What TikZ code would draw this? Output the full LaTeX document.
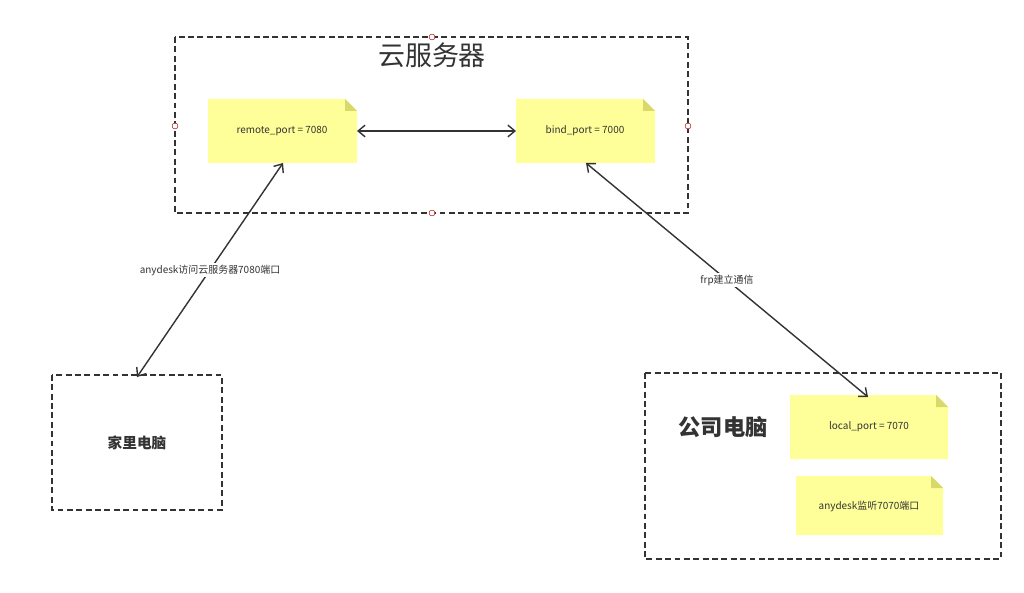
\documentclass[tikz,border=0pt]{standalone}
\usepackage{fontspec}
\setmainfont{Noto Sans CJK SC}
\usetikzlibrary{arrows.meta,shapes.misc}
\definecolor{notey}{HTML}{FFFF99}
\definecolor{linec}{HTML}{333333}
\tikzset{
  box/.style={draw=linec, line width=1.2pt, dash pattern=on 5pt off 3pt},
  link/.style={draw=linec, line width=1.2pt, {Straight Barb[length=6pt,width=10pt]}-{Straight Barb[length=6pt,width=10pt]}},
  small/.style={font=\fontsize{8.5}{10}\selectfont, text=linec},
  handle/.style={circle, draw=red!60!black, fill=white, inner sep=0pt, minimum size=5pt}
}
\begin{document}
\begin{tikzpicture}[x=0.03cm, y=-0.03cm]
\useasboundingbox (0,0) rectangle (1024,593);
% cloud server
\draw[box] (175,37) rectangle (688,213);
\node[font=\fontsize{23}{26}\selectfont, text=linec] (title) at (432,55) {云服务器};
\foreach \p in {(432,37),(175,126),(688,126),(432,213)}
  \node[handle] at \p {};
% notes
\fill[notey] (208,99) -- (345,99) -- (357,111) -- (357,163) -- (208,163) -- cycle;
\fill[notey!70!olive] (345,99) -- (345,111) -- (357,111) -- cycle;
\node[small] (remote) at (282,131) {remote\_port = 7080};
\fill[notey] (516,99) -- (643,99) -- (655,111) -- (655,163) -- (516,163) -- cycle;
\fill[notey!70!olive] (643,99) -- (643,111) -- (655,111) -- cycle;
\node[small] (bind) at (585,131) {bind\_port = 7000};
\coordinate (rR) at (357,131);
\coordinate (bL) at (516,131);
\draw[link] (rR) -- (bL);
% home
\draw[box] (52,375) rectangle (222,510);
\node[font=\bfseries\fontsize{12.5}{14}\selectfont, text=linec] (home) at (137,443) {家里电脑};
% company
\draw[box] (645,373) rectangle (1001,559);
\node[font=\bfseries\fontsize{19}{21}\selectfont, text=linec] (office) at (723,427) {公司电脑};
\fill[notey] (790,395) -- (936,395) -- (948,407) -- (948,459) -- (790,459) -- cycle;
\fill[notey!70!olive] (936,395) -- (936,407) -- (948,407) -- cycle;
\node[small] (local) at (869,427) {local\_port = 7070};
\fill[notey] (796,476) -- (931,476) -- (943,488) -- (943,535) -- (796,535) -- cycle;
\fill[notey!70!olive] (931,476) -- (931,488) -- (943,488) -- cycle;
\node[small] (listen) at (869,506) {anydesk监听7070端口};
% links
\coordinate (rB) at (283,163);
\coordinate (hT) at (137,377);
\draw[link] (rB) -- (hT) node[pos=0.5, fill=white, small, inner sep=1pt] (l1) {anydesk访问云服务器7080端口};
\coordinate (bB) at (586,163);
\coordinate (lT) at (868,397);
\draw[link] (bB) -- (lT) node[pos=0.5, fill=white, small, inner sep=1pt] (l2) {frp建立通信};
\end{tikzpicture}
\end{document}
